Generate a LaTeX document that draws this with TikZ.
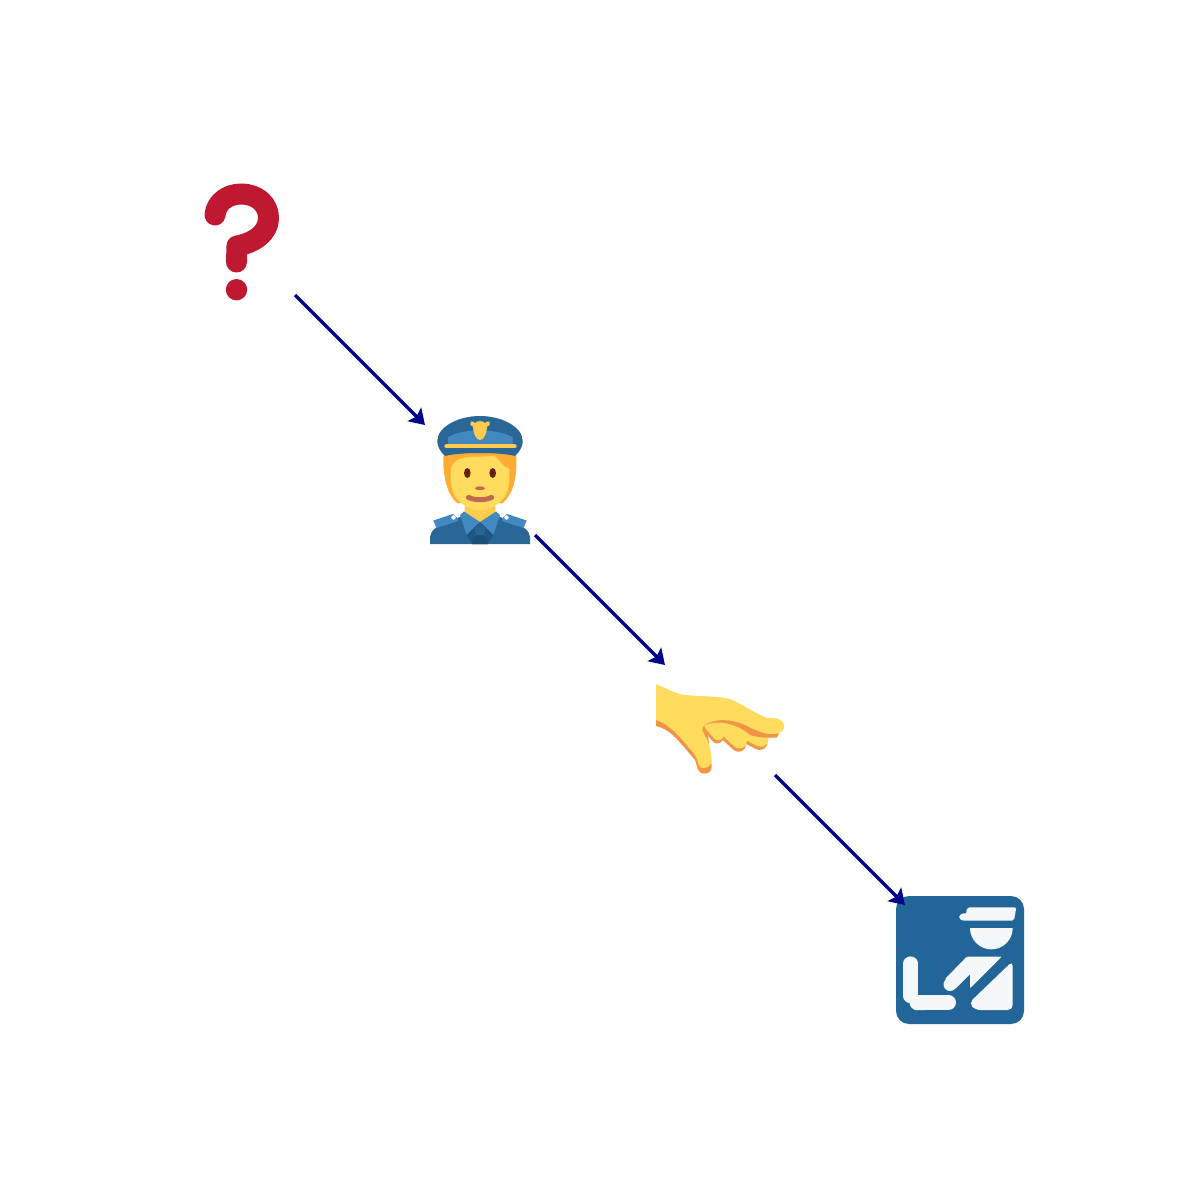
\documentclass[tikz,border=0pt]{standalone}
\usetikzlibrary{arrows.meta}
\definecolor{qred}{HTML}{BE1931}
\definecolor{skin}{HTML}{FFDC5D}
\definecolor{hair}{HTML}{FFAC33}
\definecolor{gold}{HTML}{FFCC4D}
\definecolor{dblue}{HTML}{2A6797}
\definecolor{lblue}{HTML}{4289C1}
\definecolor{tie}{HTML}{1C4F7C}
\definecolor{mouth}{HTML}{C1694F}
\definecolor{eye}{HTML}{662113}
\definecolor{handshade}{HTML}{EF9645}
\definecolor{boxblue}{HTML}{226699}
\definecolor{paper}{HTML}{F5F8FA}
\definecolor{arrowblue}{HTML}{00008B}
\newcommand\pw[1]{#1*0.05cm}
\tikzset{
  slot/.style={rectangle,inner sep=0pt,outer sep=0pt,minimum size=5.5cm},
  conn/.style={draw=arrowblue,line width=\pw{3.3},-{Stealth[length=\pw{15},width=\pw{19},inset=\pw{3}]}},
  thick stroke/.style={line cap=round,line join=round,line width=\pw{#1}}
}
\begin{document}
\begin{tikzpicture}[x=0.05cm,y=-0.05cm]
\useasboundingbox[fill=white] (0,0) rectangle (1200,1200);

% question mark
\draw[qred,thick stroke=21] (215,215) .. controls (216,203) and (227,194) .. (241,194)
  .. controls (257,194) and (268.5,204) .. (268.5,218)
  .. controls (268.5,233) and (254,243) .. (237,246) -- (236.5,262);
\fill[qred] (236.5,289.7) circle (10.7);

% officer
\fill[dblue] (430,544) -- (430,537) .. controls (431,530) and (436,527) .. (442,525) -- (462,516) -- (498,516) -- (518,525)
  .. controls (524,527) and (529,530) .. (530,537) -- (530,544) -- cycle;
\foreach \s/\o in {1/0,-1/960}{
  \begin{scope}[shift={(\o,0)},xscale=\s]
    \fill[lblue] (433.3,520.5) -- (453,514) -- (458,518.5) -- (458,521) -- (436.5,528) -- cycle;
    \fill[white] (453.5,517.5) circle (2.2);
  \end{scope}
}
\fill[hair] (443.3,460) .. controls (443,449) and (450,447) .. (480,447)
  .. controls (510,447) and (517,449) .. (516.5,460)
  .. controls (516.5,478) and (514,492) .. (503,503) -- (457,503)
  .. controls (447,494) and (443.5,478) .. (443.3,460) -- cycle;
\fill[gold] (465,498) -- (495,498) -- (495.5,516) -- (480,524) -- (464.5,516) -- cycle;
\fill[skin] (450.7,472) .. controls (451,464) and (456,459) .. (465,457.5)
  .. controls (478,456) and (488,457) .. (494,455.5) .. controls (500,460) and (503,467) .. (509.3,469)
  .. controls (510,482) and (509,492) .. (503,499)
  .. controls (497,506) and (487,510.5) .. (480,510.5)
  .. controls (473,510.5) and (463,506) .. (457,499)
  .. controls (451,492) and (450.5,482) .. (450.7,472) -- cycle;
\fill[lblue] (460,515) -- (464,511.5) -- (480,522) -- (466.7,535) -- cycle;
\fill[lblue] (500,515) -- (496,511.5) -- (480,522) -- (493.3,535) -- cycle;
\fill[tie!70!dblue] (466.7,535) -- (480,522) -- (493.3,535) -- (488,544) -- (472,544) -- cycle;
\fill[dblue!80!tie] (474.5,528) -- (480,523.5) -- (485.5,528) -- (484,535) -- (476,535) -- cycle;
\fill[tie] (476,535) -- (484,535) .. controls (486,538) and (488,541) .. (488,544) -- (472,544) .. controls (472,541) and (474,538) .. (476,535) -- cycle;
\fill[eye] (467.3,473) ellipse (3.3 and 5);
\fill[eye] (492.7,473) ellipse (3.3 and 5);
\fill[mouth] (480,488.3) ellipse (5 and 1.9);
\draw[mouth,thick stroke=5] (468.5,497.5) .. controls (475,500.5) and (485,500.5) .. (491.5,497.5);
% cap
\fill[dblue] (445,456) .. controls (439,450) and (437.3,446) .. (437.3,441)
  .. controls (437.3,427) and (458,416) .. (480,416)
  .. controls (502,416) and (522.7,427) .. (522.7,441)
  .. controls (522.7,446) and (521,450) .. (515,456)
  .. controls (500,452) and (460,452) .. (445,456) -- cycle;
\fill[lblue] (448,445) -- (448,437) .. controls (455,433) and (465,431) .. (480,430)
  .. controls (495,431) and (505,433) .. (512.5,437) -- (512.5,445) -- cycle;
\draw[gold,line width=\pw{4},line cap=round] (446.3,446.3) -- (514.7,446.3);
\fill[gold] (471,421.5) .. controls (473,421) and (474,422) .. (475,423) .. controls (477,420.5) and (483,420.5) .. (485,423)
  .. controls (486,422) and (487,421) .. (489.5,421.5) .. controls (490.5,423) and (490,426) .. (487,426.5)
  .. controls (487,433) and (484,440) .. (480,440) .. controls (476,440) and (473,433) .. (473,426.5)
  .. controls (470,426) and (469.5,423) .. (471,421.5) -- cycle;

% hand
\foreach \ax/\ay/\bx/\by/\w in {741/729/760.7/739/15.5, 722/725/739.5/741/15, 710/725/718.3/734.5/11.5}{
  \draw[handshade,thick stroke=\w] (\ax-1,\ay+3.2) -- (\bx-1,\by+3.2);
  \draw[skin,thick stroke=\w] (\ax,\ay) -- (\bx,\by);
}
% palm with under-edge and thumb
\fill[handshade] (656,700) -- (656,726) .. controls (670,729) and (678,740) .. (695,760)
  .. controls (698,768) and (697,772) .. (703,773.5) .. controls (709,774) and (712,771) .. (711.7,766)
  -- (708,735) -- (703,726) .. controls (715,719.5) and (735,722) .. (750,735)
  .. controls (760,738) and (768,738) .. (777,737.5) -- (782,726) -- (730,705) -- cycle;
\fill[skin] (656,684.3) .. controls (664,687) and (672,692) .. (680,694.3)
  .. controls (695,696.5) and (715,696) .. (727,698.3)
  .. controls (740,702) and (750,711) .. (766,717.5)
  .. controls (770,718.5) and (775,718) .. (777,718.5)
  .. controls (782,720) and (784,723) .. (784,726.5)
  .. controls (784,730) and (781,733) .. (778,733.5)
  .. controls (768,735) and (762,733) .. (750,727.5)
  .. controls (735,719) and (715,717) .. (703,726)
  .. controls (701.5,730) and (703,733) .. (705,736)
  .. controls (710,743) and (711,752) .. (711.7,761)
  .. controls (711,767) and (705,769) .. (700.5,767.5)
  .. controls (698,765) and (698,760) .. (695,755)
  .. controls (685,743) and (672,725) .. (656,720) -- cycle;

% box
\fill[boxblue,rounded corners=\pw{13}] (896,896) rectangle (1024,1024);
\fill[paper,rounded corners=\pw{2}] (966,913) -- (967.3,907.3) -- (1016.3,907.3) -- (1014,920.7) -- (966,920.7) -- cycle;
\fill[paper] (965,917) ellipse (6 and 3.7);
\fill[paper] (970,928) -- (1012.7,928) arc[start angle=0,end angle=180,radius=21.35] -- cycle;
\fill[paper,rounded corners=\pw{1}] (966.7,956.7) -- (1001.7,956.7) -- (970,988.3) -- (970,974) -- (955,989) -- (945,979) -- cycle;
\draw[paper,thick stroke=13] (950,984.5) -- (968,966);
\fill[paper,rounded corners=\pw{5}] (1012.7,961) -- (1012.7,1010) -- (975,1010) -- (969,1003) -- cycle;
\draw[paper,thick stroke=14.3] (910.6,963.5) -- (910.6,996);
\draw[paper,thick stroke=15] (917,1002.5) -- (948.5,1002.5);
\fill[paper] (903.5,990) -- (903.5,996.7) -- (906.7,1000.7) -- (910,1001.7) -- (911,1006.7) -- (915,1010) -- (925,1010) -- (925,995) -- (917.7,995) -- (917.7,990) -- cycle;

% placeholders and connectors
\node[slot] (ask) at (240,240) {};
\node[slot] (officer) at (480,480) {};
\node[slot] (hand) at (720,720) {};
\node[slot] (sign) at (960,960) {};
\draw[conn] (ask.south east) -- (officer.north west);
\draw[conn] (officer.south east) -- (hand.north west);
\draw[conn] (hand.south east) -- (sign.north west);
\end{tikzpicture}
\end{document}
